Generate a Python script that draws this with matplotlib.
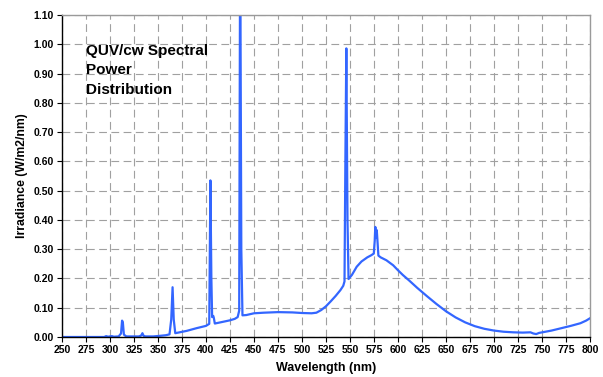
import matplotlib
matplotlib.use('Agg')
import matplotlib.pyplot as plt
import numpy as np

# spectrum (nm, W/m2/nm)
wavelength = [250, 294, 296, 298, 300, 302, 304, 309, 311.5, 312.6, 313.4, 314.5, 317,
              330, 332.5, 333.8, 335, 337, 345, 352, 358, 362, 363.8, 365.2, 366.4, 368,
              380, 390, 400, 403.4, 404.6, 405.6, 406.4, 407.6, 408.2, 409.2, 415, 425, 430, 433,
              434.6, 435.6, 436.8, 438, 442, 450, 460, 475, 490, 500, 510, 515, 520,
              525, 530, 535, 540, 543, 544.3, 545.2, 546.2, 547.4, 548.5, 552, 557, 562,
              568, 572, 574.8, 575.8, 576.4, 577.2, 577.9, 578.6, 579.6, 582, 588, 595,
              600, 605, 612, 620, 630, 640, 650, 660, 670, 680, 690, 700, 710, 720,
              730, 738, 741, 744, 747, 752, 760, 770, 780, 790, 796, 800]
irradiance = [0.0, 0.0, 0.003, 0.001, 0.002, 0.003, 0.001, 0.002, 0.012, 0.056, 0.05, 0.008, 0.002,
              0.002, 0.005, 0.013, 0.004, 0.002, 0.002, 0.004, 0.006, 0.009, 0.06, 0.17, 0.06, 0.013,
              0.021, 0.03, 0.038, 0.045, 0.535, 0.2, 0.068, 0.072, 0.065, 0.046, 0.05, 0.057, 0.062, 0.068,
              0.09, 1.40, 0.3, 0.074, 0.075, 0.081, 0.083, 0.085, 0.084, 0.082, 0.081, 0.083, 0.092,
              0.105, 0.122, 0.14, 0.16, 0.175, 0.19, 0.6, 0.986, 0.4, 0.198, 0.212, 0.24, 0.258,
              0.272, 0.279, 0.285, 0.33, 0.376, 0.34, 0.365, 0.33, 0.278, 0.272, 0.262, 0.245,
              0.228, 0.212, 0.192, 0.168, 0.14, 0.113, 0.088, 0.067, 0.05, 0.037, 0.028, 0.022, 0.018, 0.016,
              0.015, 0.016, 0.012, 0.01, 0.014, 0.017, 0.022, 0.03, 0.038, 0.047, 0.056, 0.064]

xticks = np.arange(250, 801, 25)
yticks = np.arange(0, 1.101, 0.1)

plt.rcParams['font.family'] = ['Liberation Sans', 'DejaVu Sans']
plt.rcParams['font.weight'] = 'bold'

fig = plt.figure(figsize=(6.03, 3.77), dpi=100)
ax = fig.add_axes([0.1028, 0.1061, 0.8756, 0.8541])

ax.plot(wavelength, irradiance, color='#3366ff', lw=1.6, solid_joinstyle='round')

ax.set_xlim(250, 800)
ax.set_ylim(0, 1.10)
ax.set_xticks(xticks)
ax.set_yticks(yticks)
ax.set_yticklabels([f'{v:.2f}' for v in yticks])
ax.tick_params(axis='both', labelsize=7.5, direction='out', length=3.5, width=0.8,
               colors='black', pad=2.5)
for lab in ax.get_xticklabels() + ax.get_yticklabels():
    lab.set_fontweight('bold')

ax.grid(True, color='#a0a0a0', lw=0.8, linestyle=(0, (7, 4)))
ax.set_axisbelow(True)

ax.spines['left'].set_color('black')
ax.spines['bottom'].set_color('black')
ax.spines['top'].set_color('#9a9a9a')
ax.spines['right'].set_color('#9a9a9a')
for s in ax.spines.values():
    s.set_linewidth(1.0)

ax.set_xlabel('Wavelength (nm)', fontsize=9, fontweight='bold', labelpad=5)
ax.set_ylabel('Irradiance (W/m2/nm)', fontsize=8.8, fontweight='bold', labelpad=4)

ax.text(0.045, 0.91, 'QUV/cw Spectral\nPower\nDistribution', transform=ax.transAxes,
        fontsize=11, fontweight='bold', va='top', ha='left', linespacing=1.5)

fig.savefig('out.png', dpi=100)
